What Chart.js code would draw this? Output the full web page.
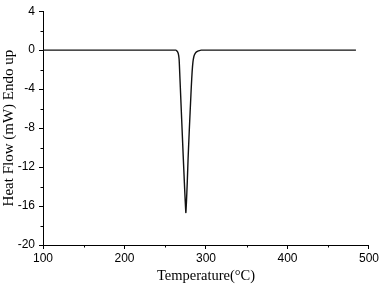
<!DOCTYPE html>
<html>
<head>
<meta charset="utf-8">
<script src="https://cdn.jsdelivr.net/npm/chart.js@4.4.1/dist/chart.umd.min.js"></script>
<style>
  html, body { margin: 0; padding: 0; background: #fff; }
  #wrap { width: 381px; height: 288px; }
</style>
</head>
<body>
<div id="wrap"><canvas id="c" width="381" height="288"></canvas></div>
<script>
// Temperature (°C)
const temperatures = [100, 150, 200, 250, 258, 263, 264, 265, 266, 267, 268, 269, 270, 271, 272, 273, 274, 275, 275.3, 276, 277, 278, 279, 280, 281, 282, 283, 284, 285, 286, 287, 288, 290, 292, 294, 300, 350, 400, 450, 484];
// Heat flow (mW), endo up
const heatFlow = [0, 0, 0, 0, 0, 0, -0.05, -0.15, -0.35, -0.9, -2.8, -4.8, -6.8, -8.8, -10.8, -12.7, -14.6, -16.3, -16.67, -15.6, -13.6, -11.2, -9.2, -7.3, -5.5, -3.7, -2.2, -1.2, -0.7, -0.45, -0.3, -0.2, -0.1, -0.04, 0, 0, 0, 0, 0, 0];

const xMajorTicks = [100, 200, 300, 400, 500];
const xMinorTicks = [150, 250, 350, 450];
const yMajorTicks = [-20, -16, -12, -8, -4, 0, 4];
const yMinorTicks = [-18, -14, -10, -6, -2, 2];

const xTitle = 'Temperature(°C)';
const yTitle = 'Heat Flow (mW) Endo up';

const points = temperatures.map((t, i) => ({ x: t, y: heatFlow[i] }));

const minorTicksPlugin = {
  id: 'minorTicks',
  afterDraw(chart) {
    const ctx = chart.ctx;
    const xs = chart.scales.x, ys = chart.scales.y;
    const area = chart.chartArea;
    ctx.save();
    ctx.strokeStyle = '#000';
    ctx.lineWidth = 1;
    ctx.beginPath();
    xMinorTicks.forEach(v => {
      const px = Math.round(xs.getPixelForValue(v)) + 0.5;
      ctx.moveTo(px, area.bottom);
      ctx.lineTo(px, area.bottom + 2.5);
    });
    yMinorTicks.forEach(v => {
      const py = Math.round(ys.getPixelForValue(v)) + 0.5;
      ctx.moveTo(area.left, py);
      ctx.lineTo(area.left - 2.5, py);
    });
    ctx.stroke();
    ctx.restore();
  }
};

new Chart(document.getElementById('c'), {
  type: 'scatter',
  data: {
    datasets: [{
      data: points,
      showLine: true,
      borderColor: '#111',
      borderWidth: 1.4,
      pointRadius: 0,
      tension: 0.2,
      fill: false
    }]
  },
  options: {
    responsive: false,
    animation: false,
    layout: { padding: { top: 7, right: 12, left: 0, bottom: 0 } },
    plugins: { legend: { display: false }, tooltip: { enabled: false } },
    scales: {
      x: {
        type: 'linear',
        min: 100, max: 500,
        afterBuildTicks(scale) { scale.ticks = xMajorTicks.map(v => ({ value: v })); },
        afterFit(scale) { scale.height = 43; },
        grid: { drawOnChartArea: false, drawTicks: true, tickLength: 4, color: '#000', lineWidth: 1 },
        border: { display: true, color: '#000', width: 1 },
        ticks: { color: '#000', padding: 2, maxRotation: 0, font: { family: 'Liberation Sans', size: 12 } },
        title: { display: true, text: xTitle, color: '#000', padding: { top: 0, bottom: 3 }, font: { family: 'Liberation Serif', size: 14.5 } }
      },
      y: {
        type: 'linear',
        min: -20, max: 4,
        afterBuildTicks(scale) { scale.ticks = yMajorTicks.map(v => ({ value: v })); },
        afterFit(scale) { scale.width = 43; },
        grid: { drawOnChartArea: false, drawTicks: true, tickLength: 4, color: '#000', lineWidth: 1 },
        border: { display: true, color: '#000', width: 1 },
        ticks: { color: '#000', padding: 4, font: { family: 'Liberation Sans', size: 12 } },
        title: { display: true, text: yTitle, color: '#000', padding: { top: 0, bottom: 0 }, font: { family: 'Liberation Serif', size: 15 } }
      }
    }
  },
  plugins: [minorTicksPlugin]
});
</script>
</body>
</html>
